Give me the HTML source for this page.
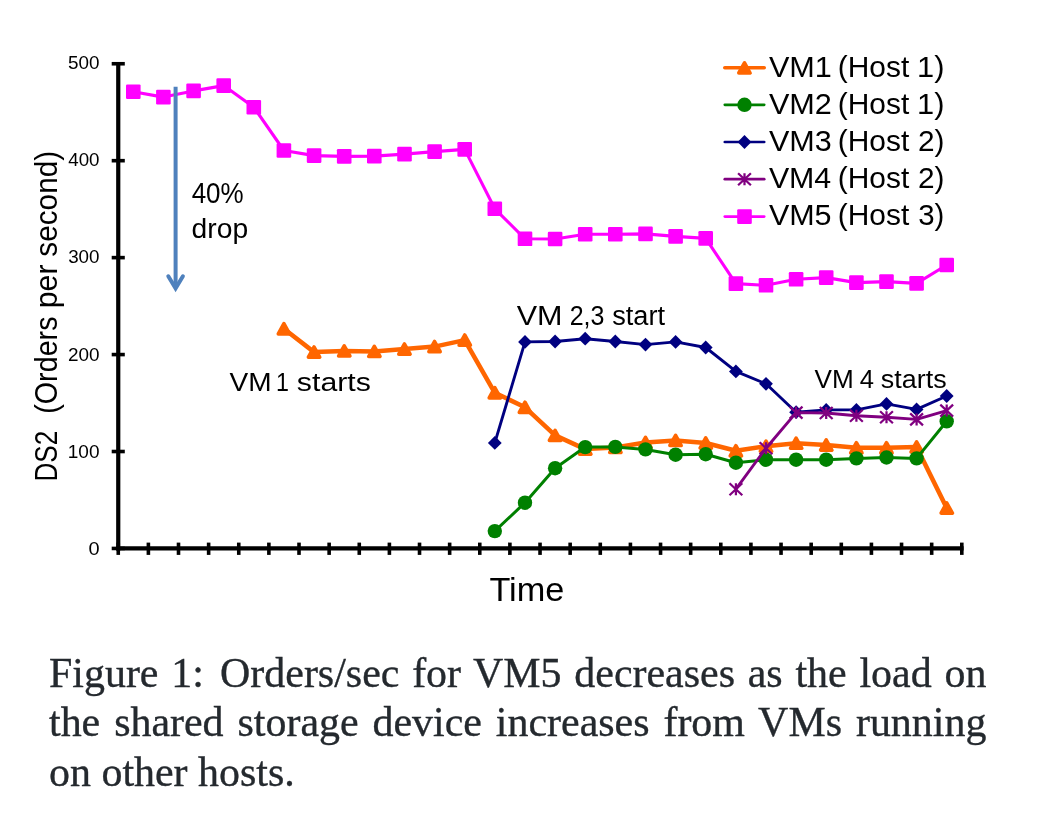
<!DOCTYPE html>
<html lang="en"><head><meta charset="utf-8"><title>Figure 1</title>
<style>
html,body{margin:0;padding:0;background:#fff;}
body{width:1038px;height:822px;position:relative;overflow:hidden;}
svg{position:absolute;left:0;top:0;display:block;will-change:transform;}
svg text{font-family:"Liberation Sans",sans-serif;fill:#000;}
.cap{position:absolute;left:49.4px;width:920.8px;transform:scaleX(1.018);transform-origin:0 0;will-change:transform;-webkit-text-stroke:0.35px #24292e;font-family:"Liberation Serif",serif;font-size:41.2px;line-height:50px;color:#24292e;white-space:nowrap;text-align:justify;text-align-last:justify;margin:0;}
.cap.last{text-align:left;text-align-last:left;}
</style></head><body>
<svg width="1038" height="822" viewBox="0 0 1038 822">

<g stroke="#000" fill="none">
<line x1="118.25" y1="62" x2="118.25" y2="550.5500000000001" stroke-width="4.2"/>
<line x1="116.15" y1="548.45" x2="963.6" y2="548.45" stroke-width="4.2"/>
<line x1="111.7" y1="548.45" x2="124.8" y2="548.45" stroke-width="3.6"/>
<line x1="111.7" y1="451.51" x2="124.8" y2="451.51" stroke-width="3.6"/>
<line x1="111.7" y1="354.57" x2="124.8" y2="354.57" stroke-width="3.6"/>
<line x1="111.7" y1="257.63" x2="124.8" y2="257.63" stroke-width="3.6"/>
<line x1="111.7" y1="160.69" x2="124.8" y2="160.69" stroke-width="3.6"/>
<line x1="111.7" y1="63.75" x2="124.8" y2="63.75" stroke-width="3.6"/>
<line x1="118.25" y1="542.6" x2="118.25" y2="554.9" stroke-width="3.6"/>
<line x1="148.38" y1="542.6" x2="148.38" y2="554.9" stroke-width="3.6"/>
<line x1="178.50" y1="542.6" x2="178.50" y2="554.9" stroke-width="3.6"/>
<line x1="208.63" y1="542.6" x2="208.63" y2="554.9" stroke-width="3.6"/>
<line x1="238.76" y1="542.6" x2="238.76" y2="554.9" stroke-width="3.6"/>
<line x1="268.88" y1="542.6" x2="268.88" y2="554.9" stroke-width="3.6"/>
<line x1="299.01" y1="542.6" x2="299.01" y2="554.9" stroke-width="3.6"/>
<line x1="329.14" y1="542.6" x2="329.14" y2="554.9" stroke-width="3.6"/>
<line x1="359.27" y1="542.6" x2="359.27" y2="554.9" stroke-width="3.6"/>
<line x1="389.39" y1="542.6" x2="389.39" y2="554.9" stroke-width="3.6"/>
<line x1="419.52" y1="542.6" x2="419.52" y2="554.9" stroke-width="3.6"/>
<line x1="449.65" y1="542.6" x2="449.65" y2="554.9" stroke-width="3.6"/>
<line x1="479.77" y1="542.6" x2="479.77" y2="554.9" stroke-width="3.6"/>
<line x1="509.90" y1="542.6" x2="509.90" y2="554.9" stroke-width="3.6"/>
<line x1="540.03" y1="542.6" x2="540.03" y2="554.9" stroke-width="3.6"/>
<line x1="570.15" y1="542.6" x2="570.15" y2="554.9" stroke-width="3.6"/>
<line x1="600.28" y1="542.6" x2="600.28" y2="554.9" stroke-width="3.6"/>
<line x1="630.41" y1="542.6" x2="630.41" y2="554.9" stroke-width="3.6"/>
<line x1="660.54" y1="542.6" x2="660.54" y2="554.9" stroke-width="3.6"/>
<line x1="690.66" y1="542.6" x2="690.66" y2="554.9" stroke-width="3.6"/>
<line x1="720.79" y1="542.6" x2="720.79" y2="554.9" stroke-width="3.6"/>
<line x1="750.92" y1="542.6" x2="750.92" y2="554.9" stroke-width="3.6"/>
<line x1="781.04" y1="542.6" x2="781.04" y2="554.9" stroke-width="3.6"/>
<line x1="811.17" y1="542.6" x2="811.17" y2="554.9" stroke-width="3.6"/>
<line x1="841.30" y1="542.6" x2="841.30" y2="554.9" stroke-width="3.6"/>
<line x1="871.42" y1="542.6" x2="871.42" y2="554.9" stroke-width="3.6"/>
<line x1="901.55" y1="542.6" x2="901.55" y2="554.9" stroke-width="3.6"/>
<line x1="931.68" y1="542.6" x2="931.68" y2="554.9" stroke-width="3.6"/>
<line x1="961.81" y1="542.6" x2="961.81" y2="554.9" stroke-width="3.6"/>
</g>
<text y="555.10" font-size="18.6"><tspan x="88.50" textLength="11.12" lengthAdjust="spacingAndGlyphs">0</tspan></text>
<text y="457.83" font-size="18.6"><tspan x="67.77" textLength="31.76" lengthAdjust="spacingAndGlyphs">100</tspan></text>
<text y="360.56" font-size="18.6"><tspan x="67.95" textLength="31.58" lengthAdjust="spacingAndGlyphs">200</tspan></text>
<text y="263.29" font-size="18.6"><tspan x="68.15" textLength="31.38" lengthAdjust="spacingAndGlyphs">300</tspan></text>
<text y="166.02" font-size="18.6"><tspan x="68.23" textLength="31.29" lengthAdjust="spacingAndGlyphs">400</tspan></text>
<text y="68.75" font-size="18.6"><tspan x="68.05" textLength="31.48" lengthAdjust="spacingAndGlyphs">500</tspan></text>
<text transform="translate(57.2,0) rotate(-90)" y="0" font-size="30.6"><tspan x="-481.49" textLength="50.80" lengthAdjust="spacingAndGlyphs">DS2</tspan> <tspan x="-413.82" textLength="97.35" lengthAdjust="spacingAndGlyphs">(Orders</tspan> <tspan x="-308.37" textLength="43.84" lengthAdjust="spacingAndGlyphs">per</tspan> <tspan x="-256.69" textLength="105.86" lengthAdjust="spacingAndGlyphs">second)</tspan></text>
<text y="600.50" font-size="33.7"><tspan x="489.44" textLength="74.90" lengthAdjust="spacingAndGlyphs">Time</tspan></text>
<g><polyline points="283.9,328.8 314.1,352.1 344.2,350.9 374.3,351.4 404.5,349.1 434.6,346.6 464.7,340.1 494.8,392.8 525.0,407.3 555.1,435.4 585.2,449.1 615.3,447.4 645.5,442.4 675.6,440.4 705.7,443.0 735.9,450.8 766.0,446.2 796.1,443.2 826.2,445.0 856.4,447.8 886.5,447.8 916.6,446.9 946.7,508.0" fill="none" stroke="#FF6600" stroke-width="4.55" stroke-linejoin="round" stroke-linecap="round"/>
<g fill="#FF6600" stroke="#FF6600" stroke-width="3.6" stroke-linejoin="round"><path d="M283.9,323.7 L289.6,333.9 L278.3,333.9Z"/><path d="M314.1,347.0 L319.7,357.2 L308.4,357.2Z"/><path d="M344.2,345.8 L349.9,356.0 L338.6,356.0Z"/><path d="M374.3,346.3 L380.0,356.5 L368.7,356.5Z"/><path d="M404.5,344.0 L410.1,354.2 L398.8,354.2Z"/><path d="M434.6,341.5 L440.2,351.7 L428.9,351.7Z"/><path d="M464.7,335.0 L470.4,345.2 L459.1,345.2Z"/><path d="M494.8,387.7 L500.5,397.9 L489.2,397.9Z"/><path d="M525.0,402.2 L530.6,412.4 L519.3,412.4Z"/><path d="M555.1,430.3 L560.7,440.5 L549.4,440.5Z"/><path d="M585.2,444.0 L590.9,454.2 L579.6,454.2Z"/><path d="M615.3,442.3 L621.0,452.5 L609.7,452.5Z"/><path d="M645.5,437.3 L651.1,447.5 L639.8,447.5Z"/><path d="M675.6,435.3 L681.2,445.5 L669.9,445.5Z"/><path d="M705.7,437.9 L711.4,448.1 L700.1,448.1Z"/><path d="M735.9,445.7 L741.5,455.9 L730.2,455.9Z"/><path d="M766.0,441.1 L771.6,451.3 L760.3,451.3Z"/><path d="M796.1,438.1 L801.8,448.3 L790.5,448.3Z"/><path d="M826.2,439.9 L831.9,450.1 L820.6,450.1Z"/><path d="M856.4,442.7 L862.0,452.9 L850.7,452.9Z"/><path d="M886.5,442.7 L892.1,452.9 L880.8,452.9Z"/><path d="M916.6,441.8 L922.3,452.0 L911.0,452.0Z"/><path d="M946.7,502.9 L952.4,513.1 L941.1,513.1Z"/></g></g>
<g><polyline points="494.8,531.1 525.0,502.7 555.1,468.2 585.2,447.1 615.3,446.9 645.5,449.4 675.6,454.7 705.7,454.2 735.9,462.7 766.0,459.7 796.1,459.7 826.2,459.7 856.4,458.4 886.5,457.5 916.6,458.4 946.7,421.3" fill="none" stroke="#008000" stroke-width="3.0" stroke-linejoin="round" stroke-linecap="round"/>
<g fill="#008000"><circle cx="494.8" cy="531.1" r="7.2"/><circle cx="525.0" cy="502.7" r="7.2"/><circle cx="555.1" cy="468.2" r="7.2"/><circle cx="585.2" cy="447.1" r="7.2"/><circle cx="615.3" cy="446.9" r="7.2"/><circle cx="645.5" cy="449.4" r="7.2"/><circle cx="675.6" cy="454.7" r="7.2"/><circle cx="705.7" cy="454.2" r="7.2"/><circle cx="735.9" cy="462.7" r="7.2"/><circle cx="766.0" cy="459.7" r="7.2"/><circle cx="796.1" cy="459.7" r="7.2"/><circle cx="826.2" cy="459.7" r="7.2"/><circle cx="856.4" cy="458.4" r="7.2"/><circle cx="886.5" cy="457.5" r="7.2"/><circle cx="916.6" cy="458.4" r="7.2"/><circle cx="946.7" cy="421.3" r="7.2"/></g></g>
<g><polyline points="494.8,442.9 525.0,341.9 555.1,341.5 585.2,338.7 615.3,341.5 645.5,344.6 675.6,341.9 705.7,347.5 735.9,371.4 766.0,383.8 796.1,412.2 826.2,409.9 856.4,409.9 886.5,403.9 916.6,409.4 946.7,396.0" fill="none" stroke="#000080" stroke-width="2.9" stroke-linejoin="round" stroke-linecap="round"/>
<g fill="#000080"><path d="M494.8,436.0 L501.7,442.9 L494.8,449.8 L487.9,442.9Z"/><path d="M525.0,335.0 L531.9,341.9 L525.0,348.8 L518.1,341.9Z"/><path d="M555.1,334.6 L562.0,341.5 L555.1,348.4 L548.2,341.5Z"/><path d="M585.2,331.8 L592.1,338.7 L585.2,345.6 L578.3,338.7Z"/><path d="M615.3,334.6 L622.2,341.5 L615.3,348.4 L608.4,341.5Z"/><path d="M645.5,337.7 L652.4,344.6 L645.5,351.5 L638.6,344.6Z"/><path d="M675.6,335.0 L682.5,341.9 L675.6,348.8 L668.7,341.9Z"/><path d="M705.7,340.6 L712.6,347.5 L705.7,354.4 L698.8,347.5Z"/><path d="M735.9,364.5 L742.8,371.4 L735.9,378.3 L729.0,371.4Z"/><path d="M766.0,376.9 L772.9,383.8 L766.0,390.7 L759.1,383.8Z"/><path d="M796.1,405.3 L803.0,412.2 L796.1,419.1 L789.2,412.2Z"/><path d="M826.2,403.0 L833.1,409.9 L826.2,416.8 L819.3,409.9Z"/><path d="M856.4,403.0 L863.3,409.9 L856.4,416.8 L849.5,409.9Z"/><path d="M886.5,397.0 L893.4,403.9 L886.5,410.8 L879.6,403.9Z"/><path d="M916.6,402.5 L923.5,409.4 L916.6,416.3 L909.7,409.4Z"/><path d="M946.7,389.1 L953.6,396.0 L946.7,402.9 L939.8,396.0Z"/></g></g>
<g><polyline points="735.9,489.2 766.0,448.2 796.1,412.6 826.2,413.0 856.4,415.8 886.5,417.2 916.6,419.4 946.7,410.6" fill="none" stroke="#800080" stroke-width="2.9" stroke-linejoin="round" stroke-linecap="round"/>
<g fill="none" stroke="#800080" stroke-width="2.25"><path d="M729.5,483.2 L742.3,495.2 M742.3,483.2 L729.5,495.2 M735.9,483.2 L735.9,495.2"/><path d="M759.6,442.2 L772.4,454.2 M772.4,442.2 L759.6,454.2 M766.0,442.2 L766.0,454.2"/><path d="M789.7,406.6 L802.5,418.6 M802.5,406.6 L789.7,418.6 M796.1,406.6 L796.1,418.6"/><path d="M819.8,407.0 L832.6,419.0 M832.6,407.0 L819.8,419.0 M826.2,407.0 L826.2,419.0"/><path d="M850.0,409.8 L862.8,421.8 M862.8,409.8 L850.0,421.8 M856.4,409.8 L856.4,421.8"/><path d="M880.1,411.2 L892.9,423.2 M892.9,411.2 L880.1,423.2 M886.5,411.2 L886.5,423.2"/><path d="M910.2,413.4 L923.0,425.4 M923.0,413.4 L910.2,425.4 M916.6,413.4 L916.6,425.4"/><path d="M940.3,404.6 L953.1,416.6 M953.1,404.6 L940.3,416.6 M946.7,404.6 L946.7,416.6"/></g></g>
<g><polyline points="133.3,91.7 163.4,97.1 193.6,90.9 223.7,85.6 253.8,107.2 283.9,150.5 314.1,155.6 344.2,156.4 374.3,156.1 404.5,154.1 434.6,151.6 464.7,149.4 494.8,208.8 525.0,238.8 555.1,239.0 585.2,234.2 615.3,234.2 645.5,233.9 675.6,236.4 705.7,238.4 735.9,283.6 766.0,285.3 796.1,279.3 826.2,277.6 856.4,282.6 886.5,281.6 916.6,283.4 946.7,265.0" fill="none" stroke="#FF00FF" stroke-width="3.1" stroke-linejoin="round" stroke-linecap="round"/>
<g fill="#FF00FF"><rect x="126.0" y="84.4" width="14.6" height="14.6" rx="1.2"/><rect x="156.1" y="89.8" width="14.6" height="14.6" rx="1.2"/><rect x="186.3" y="83.6" width="14.6" height="14.6" rx="1.2"/><rect x="216.4" y="78.3" width="14.6" height="14.6" rx="1.2"/><rect x="246.5" y="99.9" width="14.6" height="14.6" rx="1.2"/><rect x="276.6" y="143.2" width="14.6" height="14.6" rx="1.2"/><rect x="306.8" y="148.3" width="14.6" height="14.6" rx="1.2"/><rect x="336.9" y="149.1" width="14.6" height="14.6" rx="1.2"/><rect x="367.0" y="148.8" width="14.6" height="14.6" rx="1.2"/><rect x="397.2" y="146.8" width="14.6" height="14.6" rx="1.2"/><rect x="427.3" y="144.3" width="14.6" height="14.6" rx="1.2"/><rect x="457.4" y="142.1" width="14.6" height="14.6" rx="1.2"/><rect x="487.5" y="201.5" width="14.6" height="14.6" rx="1.2"/><rect x="517.7" y="231.5" width="14.6" height="14.6" rx="1.2"/><rect x="547.8" y="231.7" width="14.6" height="14.6" rx="1.2"/><rect x="577.9" y="226.9" width="14.6" height="14.6" rx="1.2"/><rect x="608.0" y="226.9" width="14.6" height="14.6" rx="1.2"/><rect x="638.2" y="226.6" width="14.6" height="14.6" rx="1.2"/><rect x="668.3" y="229.1" width="14.6" height="14.6" rx="1.2"/><rect x="698.4" y="231.1" width="14.6" height="14.6" rx="1.2"/><rect x="728.6" y="276.3" width="14.6" height="14.6" rx="1.2"/><rect x="758.7" y="278.0" width="14.6" height="14.6" rx="1.2"/><rect x="788.8" y="272.0" width="14.6" height="14.6" rx="1.2"/><rect x="818.9" y="270.3" width="14.6" height="14.6" rx="1.2"/><rect x="849.1" y="275.3" width="14.6" height="14.6" rx="1.2"/><rect x="879.2" y="274.3" width="14.6" height="14.6" rx="1.2"/><rect x="909.3" y="276.1" width="14.6" height="14.6" rx="1.2"/><rect x="939.4" y="257.7" width="14.6" height="14.6" rx="1.2"/></g></g>
<g stroke="#4F81BD" stroke-width="4" fill="none" stroke-linecap="round" stroke-linejoin="round"><line x1="175.6" y1="86.8" x2="175.6" y2="287" stroke-linecap="butt"/><polyline points="168.3,276.3 175.6,288.3 182.9,276.3" stroke-linejoin="miter" stroke-miterlimit="10"/></g>
<text y="202.90" font-size="30"><tspan x="191.65" textLength="52.00" lengthAdjust="spacingAndGlyphs">40%</tspan></text>
<text y="238.40" font-size="27.6"><tspan x="191.62" textLength="56.55" lengthAdjust="spacingAndGlyphs">drop</tspan></text>
<text y="390.80" font-size="25.7"><tspan x="229.46" textLength="42.08" lengthAdjust="spacingAndGlyphs">VM</tspan> <tspan x="276.06" textLength="12.93" lengthAdjust="spacingAndGlyphs">1</tspan> <tspan x="296.89" textLength="73.96" lengthAdjust="spacingAndGlyphs">starts</tspan></text>
<text y="324.50" font-size="28.4"><tspan x="516.75" textLength="45.80" lengthAdjust="spacingAndGlyphs">VM</tspan> <tspan x="569.65" textLength="34.78" lengthAdjust="spacingAndGlyphs">2,3</tspan> <tspan x="612.18" textLength="52.85" lengthAdjust="spacingAndGlyphs">start</tspan></text>
<text y="388.00" font-size="25.4"><tspan x="814.47" textLength="39.22" lengthAdjust="spacingAndGlyphs">VM</tspan> <tspan x="859.76" textLength="14.24" lengthAdjust="spacingAndGlyphs">4</tspan> <tspan x="880.89" textLength="65.74" lengthAdjust="spacingAndGlyphs">starts</tspan></text>
<line x1="724.8" y1="67.7" x2="764.2" y2="67.7" stroke="#FF6600" stroke-width="3.6" stroke-linecap="round"/>
<g fill="#FF6600" stroke="#FF6600" stroke-width="3.6" stroke-linejoin="round"><path d="M744.5,62.8 L750.1,73.0 L738.8,73.0Z"/></g>
<text y="76.60" font-size="30.4"><tspan x="768.90" textLength="62.97" lengthAdjust="spacingAndGlyphs">VM1</tspan> <tspan x="837.81" textLength="71.47" lengthAdjust="spacingAndGlyphs">(Host</tspan> <tspan x="917.09" textLength="27.39" lengthAdjust="spacingAndGlyphs">1)</tspan></text>
<line x1="724.8" y1="104.8" x2="764.2" y2="104.8" stroke="#008000" stroke-width="2.7" stroke-linecap="round"/>
<g fill="#008000"><circle cx="744.5" cy="104.8" r="7.2"/></g>
<text y="114.10" font-size="30.4"><tspan x="768.90" textLength="62.97" lengthAdjust="spacingAndGlyphs">VM2</tspan> <tspan x="837.81" textLength="71.47" lengthAdjust="spacingAndGlyphs">(Host</tspan> <tspan x="917.09" textLength="27.39" lengthAdjust="spacingAndGlyphs">1)</tspan></text>
<line x1="724.8" y1="142.0" x2="764.2" y2="142.0" stroke="#000080" stroke-width="2.7" stroke-linecap="round"/>
<g fill="#000080"><path d="M744.5,135.1 L751.4,142.0 L744.5,148.9 L737.6,142.0Z"/></g>
<text y="151.20" font-size="30.4"><tspan x="768.90" textLength="62.81" lengthAdjust="spacingAndGlyphs">VM3</tspan> <tspan x="837.81" textLength="71.47" lengthAdjust="spacingAndGlyphs">(Host</tspan> <tspan x="917.91" textLength="26.50" lengthAdjust="spacingAndGlyphs">2)</tspan></text>
<line x1="724.8" y1="179.2" x2="764.2" y2="179.2" stroke="#800080" stroke-width="2.7" stroke-linecap="round"/>
<g fill="none" stroke="#800080" stroke-width="2.25"><path d="M738.1,173.2 L750.9,185.2 M750.9,173.2 L738.1,185.2 M744.5,173.2 L744.5,185.2"/></g>
<text y="188.30" font-size="30.4"><tspan x="768.90" textLength="62.35" lengthAdjust="spacingAndGlyphs">VM4</tspan> <tspan x="837.81" textLength="71.47" lengthAdjust="spacingAndGlyphs">(Host</tspan> <tspan x="917.91" textLength="26.50" lengthAdjust="spacingAndGlyphs">2)</tspan></text>
<line x1="724.8" y1="216.6" x2="764.2" y2="216.6" stroke="#FF00FF" stroke-width="2.7" stroke-linecap="round"/>
<g fill="#FF00FF"><rect x="737.2" y="209.3" width="14.6" height="14.6" rx="1.2"/></g>
<text y="225.40" font-size="30.4"><tspan x="768.90" textLength="62.66" lengthAdjust="spacingAndGlyphs">VM5</tspan> <tspan x="837.81" textLength="71.47" lengthAdjust="spacingAndGlyphs">(Host</tspan> <tspan x="918.22" textLength="26.17" lengthAdjust="spacingAndGlyphs">3)</tspan></text>
</svg>
<p class="cap" style="top:647.5px">Figure 1:<span style="display:inline-block;width:3.4px"></span> Orders/sec for VM5 decreases as the load on</p>
<p class="cap" style="top:697.3px">the shared storage device increases from VMs running</p>
<p class="cap last" style="top:747.3px">on other hosts.</p>
</body></html>
